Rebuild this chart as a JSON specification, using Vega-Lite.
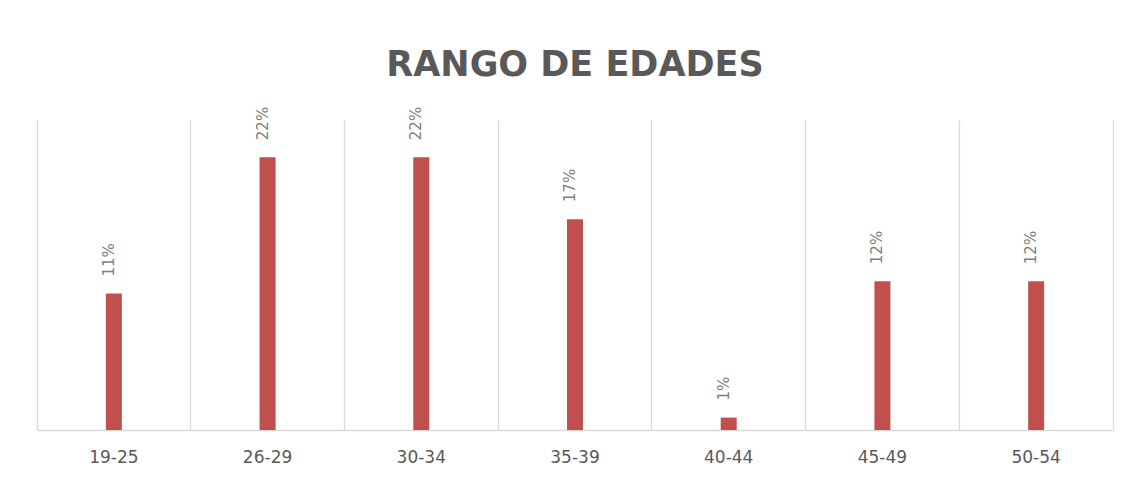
{
  "$schema": "https://vega.github.io/schema/vega-lite/v6.json",
  "autosize": {"type": "none"},
  "width": 1076,
  "height": 310,
  "padding": {"left": 37, "top": 120, "right": 18, "bottom": 48},
  "background": "#ffffff",
  "title": {
    "text": "RANGO DE EDADES",
    "font": "DejaVu Sans",
    "fontSize": 35,
    "fontWeight": "bold",
    "color": "#595959",
    "anchor": "middle",
    "frame": "group",
    "baseline": "alphabetic",
    "offset": -4
  },
  "data": {
    "values": [
      {"rango": "19-25", "pct": 0.11},
      {"rango": "26-29", "pct": 0.22},
      {"rango": "30-34", "pct": 0.22},
      {"rango": "35-39", "pct": 0.17},
      {"rango": "40-44", "pct": 0.01},
      {"rango": "45-49", "pct": 0.12},
      {"rango": "50-54", "pct": 0.12}
    ]
  },
  "encoding": {
    "x": {
      "field": "rango",
      "type": "nominal",
      "sort": null,
      "scale": {"paddingInner": 0, "paddingOuter": 0},
      "axis": {
        "title": null,
        "labelAngle": 0,
        "labelFont": "DejaVu Sans",
        "labelFontSize": 17,
        "labelColor": "#595959",
        "labelPadding": 19,
        "ticks": false,
        "tickSize": 0,
        "grid": true,
        "gridColor": "#d9d9d9",
        "gridWidth": 1.3,
        "bandPosition": 0,
        "domain": true,
        "domainColor": "#d9d9d9",
        "domainWidth": 1.3
      }
    },
    "y": {
      "field": "pct",
      "type": "quantitative",
      "scale": {"domain": [0, 0.25], "nice": false, "zero": true}
    }
  },
  "layer": [
    {
      "mark": {"type": "bar", "color": "#C0504D", "width": 16},
      "encoding": {
        "y": {
          "field": "pct",
          "type": "quantitative",
          "scale": {"domain": [0, 0.25], "nice": false},
          "axis": {"title": null, "labels": false, "ticks": false, "domain": false, "grid": false}
        }
      }
    },
    {
      "mark": {
        "type": "text",
        "angle": 270,
        "align": "left",
        "baseline": "alphabetic",
        "dx": 17,
        "dy": 0,
        "font": "DejaVu Sans",
        "fontSize": 15,
        "color": "#7f7f7f"
      },
      "encoding": {
        "y": {
          "field": "pct",
          "type": "quantitative",
          "scale": {"domain": [0, 0.25], "nice": false},
          "axis": {"title": null, "orient": "right", "labels": false, "ticks": false, "tickSize": 0, "grid": false, "domain": true, "domainColor": "#d9d9d9", "domainWidth": 1.3}
        },
        "text": {"field": "pct", "type": "quantitative", "format": ".0%"}
      }
    }
  ],
  "resolve": {"axis": {"y": "independent"}},
  "config": {
    "view": {"stroke": null}
  }
}
